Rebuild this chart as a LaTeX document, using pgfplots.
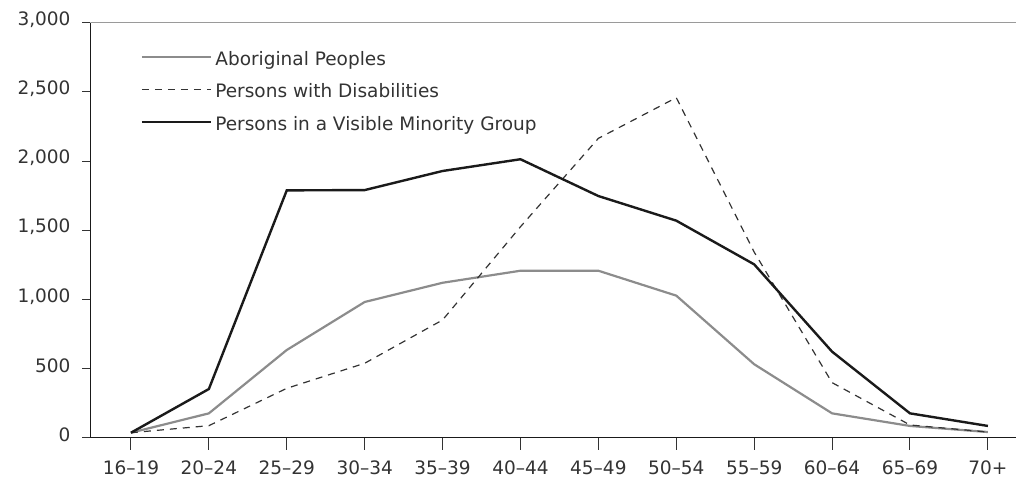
\documentclass[border=0pt]{standalone}
\usepackage{fontspec}
\setmainfont{DejaVu Sans}
\usepackage{pgfplots}
\pgfplotsset{compat=1.18}
\definecolor{txt}{HTML}{333333}
\definecolor{abor}{HTML}{8C8C8C}
\definecolor{dis}{HTML}{333333}
\definecolor{vis}{HTML}{1A1A1A}
\definecolor{topline}{HTML}{9A9A9A}
\begin{document}
\begin{tikzpicture}
\useasboundingbox (0pt,0pt) rectangle (1016pt,483pt);
\begin{axis}[
    at={(90.3pt,45.3pt)}, anchor=south west,
    scale only axis, width=925.7pt, height=415pt,
    xmin=-0.522, xmax=11.361, ymin=0, ymax=3000,
    axis lines*=left,
    axis line style={-, line width=1.4pt, vis},
    xtick={0,...,11},
    xticklabels={16--19,20--24,25--29,30--34,35--39,40--44,45--49,50--54,55--59,60--64,65--69,70+},
    ytick={0,500,...,3000},
    yticklabels={0,500,{1,000},{1,500},{2,000},{2,500},{3,000}},
    tick align=outside,
    major tick length=8pt,
    xtick style={/pgfplots/major tick length=12pt, line width=1pt, txt},
    ytick style={line width=1pt, txt},
    tick label style={font=\fontsize{18.5}{22}\selectfont, text=txt},
    yticklabel style={anchor=east, inner sep=0pt, xshift=-11.6pt, yshift=3pt},
    xticklabel style={anchor=north, inner sep=0pt, yshift=-15pt},
    legend cell align=left,
    legend style={draw=none, fill=none, at={(axis description cs:0.0544,0.9318)},
        anchor=north west, inner sep=0pt, outer sep=0pt,
        column sep=3.3pt, row sep=14.5pt,
        font=\fontsize{18.5}{22}\selectfont, text=txt,
        nodes={inner sep=0pt, text height=14pt, text depth=4pt}},
    legend image code/.code={\draw (0pt,3pt) -- (69pt,3pt);},
]
% Aboriginal Peoples
\addplot[abor, line width=2.2pt] coordinates {
    (0,36) (1,176) (2,634) (3,981) (4,1120) (5,1207)
    (6,1207) (7,1027) (8,531) (9,176) (10,85) (11,41)
};
\addlegendentry{Aboriginal Peoples}
% Persons with Disabilities
\addplot[dis, line width=1.2pt, dash pattern=on 7pt off 6pt] coordinates {
    (0,36) (1,87) (2,357) (3,538) (4,851) (5,1525)
    (6,2164) (7,2458) (8,1342) (9,398) (10,92) (11,41)
};
\addlegendentry{Persons with Disabilities}
% Persons in a Visible Minority Group
\addplot[vis, line width=2.4pt] coordinates {
    (0,36) (1,352) (2,1788) (3,1790) (4,1928) (5,2013)
    (6,1747) (7,1569) (8,1253) (9,622) (10,176) (11,85)
};
\addlegendentry{Persons in a Visible Minority Group}
\draw[topline, line width=1.4pt] ([xshift=-8pt]rel axis cs:0,1) -- (rel axis cs:1,1);
\draw[vis, line width=1.4pt] ([xshift=-8pt]rel axis cs:0,0) -- (rel axis cs:0,0);
\end{axis}
\end{tikzpicture}
\end{document}
